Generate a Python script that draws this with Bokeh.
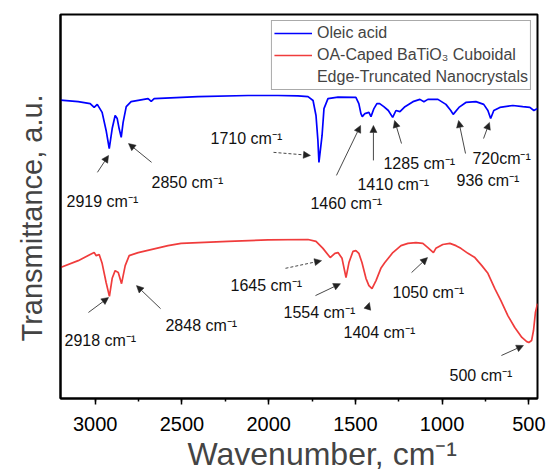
from bokeh.plotting import figure
from bokeh.models import (Range1d, FixedTicker, SingleIntervalTicker, Label, Arrow,
                          NormalHead, Legend, LegendItem, Title)
from bokeh.embed import file_html
from bokeh.resources import INLINE

# ---------------- data ----------------
wn_oa = [3200, 3098, 3029, 3006, 2988, 2960, 2937, 2919, 2902, 2885, 2873, 2862, 2850,
         2839, 2821, 2793, 2695, 2677, 2660, 2407, 2119, 1946, 1831, 1773, 1744, 1727,
         1716, 1710, 1692, 1681, 1658, 1600, 1497, 1480, 1468, 1460, 1445, 1422, 1410,
         1393, 1376, 1360, 1336, 1310, 1285, 1266, 1243, 1214, 1168, 1128, 1105, 1082,
         1024, 978, 950, 936, 903, 863, 805, 760, 736, 720, 702, 667, 592, 535, 494,
         471, 450]
t_oa = [77.7, 77.3, 76.8, 75.8, 76.6, 74.5, 69.8, 65.1, 70.3, 73.7, 72.9, 70.3, 68.0,
        71.9, 76.0, 77.3, 78.1, 77.4, 78.1, 78.6, 78.9, 78.9, 78.8, 78.6, 77.6, 73.7,
        67.2, 61.5, 68.5, 75.5, 78.1, 78.5, 78.4, 76.8, 74.2, 73.4, 74.2, 74.5, 73.4,
        75.5, 76.8, 76.8, 76.0, 75.0, 73.2, 75.0, 74.7, 76.0, 77.3, 77.9, 77.3, 77.9,
        77.9, 76.6, 75.0, 74.0, 75.8, 77.1, 77.3, 76.6, 75.0, 72.9, 75.0, 75.8, 76.3,
        76.0, 75.8, 75.0, 75.5]

wn_bt = [3200, 3098, 3029, 3006, 2994, 2977, 2960, 2937, 2918, 2902, 2885, 2867, 2848,
         2827, 2804, 2752, 2580, 2505, 2234, 2004, 1773, 1727, 1687, 1645, 1618, 1600,
         1577, 1554, 1537, 1514, 1497, 1480, 1462, 1439, 1422, 1404, 1381, 1353, 1330,
         1284, 1237, 1197, 1151, 1111, 1082, 1050, 1036, 996, 955, 920, 892, 851, 811,
         771, 736, 696, 661, 621, 581, 540, 512, 500, 484, 473, 462, 450]
t_bt = [34.1, 35.9, 37.5, 38.0, 37.2, 37.5, 35.2, 30.2, 26.6, 31.3, 33.3, 32.8, 29.9,
        34.6, 37.2, 38.0, 39.8, 40.4, 40.9, 41.3, 41.4, 40.9, 39.1, 36.7, 37.8, 38.0,
        36.5, 31.5, 35.4, 38.3, 38.5, 37.8, 35.4, 31.3, 29.4, 28.6, 30.7, 33.9, 35.4,
        38.0, 39.8, 40.4, 40.6, 40.4, 39.3, 38.0, 39.1, 40.1, 40.4, 39.8, 39.1, 37.8,
        36.7, 34.6, 32.6, 28.6, 25.5, 21.6, 18.5, 15.9, 14.8, 14.6, 15.1, 17.7, 22.4,
        24.7]

x_ticks = [3000, 2500, 2000, 1500, 1000, 500]
series_names = ["Oleic acid", "OA-Caped BaTiO\u2083 Cuboidal", "Edge-Truncated Nanocrystals"]

# peak annotations: text, label x, label baseline y, arrow tail (x, y), arrow head (x, y), dashed
blue_ann = [
    ("2919 cm\u207b\u00b9", 3165, 51.4, 2987, 58.9, 2923, 63.3, False),
    ("2850 cm\u207b\u00b9", 2675, 56.2, 2675, 61.5, 2808, 66.4, False),
    ("1710 cm\u207b\u00b9", 2335, 67.7, 1972, 64.1, 1759, 63.3, True),
    ("1460 cm\u207b\u00b9", 1759, 50.8, 1609, 58.1, 1470, 71.1, False),
    ("1410 cm\u207b\u00b9", 1488, 55.7, 1396, 62.0, 1396, 71.1, False),
    ("1285 cm\u207b\u00b9", 1338, 61.2, 1234, 66.4, 1274, 72.4, False),
    ("936 cm\u207b\u00b9", 917, 56.8, 865, 63.8, 905, 72.4, False),
    ("720cm\u207b\u00b9", 825, 62.5, 761, 67.7, 727, 71.9, False),
]
red_ann = [
    ("2918 cm\u207b\u00b9", 3177, 15.1, 3039, 22.4, 2923, 26.3, False),
    ("2848 cm\u207b\u00b9", 2595, 19.0, 2623, 23.4, 2762, 29.4, False),
    ("1645 cm\u207b\u00b9", 2220, 29.4, 1903, 33.9, 1695, 35.9, True),
    ("1554 cm\u207b\u00b9", 1914, 22.4, 1730, 26.8, 1586, 29.9, False),
    ("1404 cm\u207b\u00b9", 1568, 17.2, 1430, 23.4, 1419, 25.0, False),
    ("1050 cm\u207b\u00b9", 1286, 27.6, 1176, 32.8, 1084, 36.7, False),
    ("500 cm\u207b\u00b9", 957, 6.0, 658, 11.2, 531, 13.8, False),
]

FONT = "Liberation Sans"

p = figure(frame_width=477, frame_height=384,
           x_range=Range1d(3200, 450), y_range=Range1d(0, 100),
           output_backend="svg", toolbar_location=None,
           min_border_left=10, min_border_right=10, min_border_top=14, min_border_bottom=0,
           background_fill_color="white", border_fill_color="white")

p.grid.visible = False
p.outline_line_color = "black"
p.outline_line_width = 2

# x axis
xa = p.xaxis[0]
xa.ticker = SingleIntervalTicker(interval=500, num_minor_ticks=2)
xa.major_label_text_font = FONT
xa.major_label_text_font_size = "20px"
xa.major_label_text_color = "black"
xa.major_tick_in = 0
xa.major_tick_out = 6
xa.minor_tick_in = 0
xa.minor_tick_out = 3
xa.major_tick_line_width = 1.5
xa.minor_tick_line_width = 1.5
xa.axis_line_width = 2
xa.major_label_standoff = 12

# y axis: no ticks, no labels
ya = p.yaxis[0]
ya.ticker = FixedTicker(ticks=[])
ya.axis_line_width = 2
ya.major_tick_line_color = None
ya.minor_tick_line_color = None
ya.major_label_text_font_size = "0px"

p.add_layout(Title(text="Wavenumber, cm\u207b\u00b9", align="left", offset=127,
                   text_font=FONT, text_font_size="32px", text_font_style="normal",
                   standoff=0), "below")
p.add_layout(Title(text="Transmittance, a.u.", align="left", offset=57,
                   text_font=FONT, text_font_size="29px", text_font_style="normal",
                   standoff=26), "left")

r_oa = p.line(wn_oa, t_oa, line_color="#0000ff", line_width=1.7)
r_bt = p.line(wn_bt, t_bt, line_color="#f03c3c", line_width=1.7)
r_blank = p.line(x=[], y=[], line_alpha=0)

for anns in (blue_ann, red_ann):
    for txt, lx, ly, tx, ty, hx, hy, dashed in anns:
        p.add_layout(Label(x=lx, y=ly, text=txt, text_font=FONT, text_font_size="16px",
                           text_color="#111111", text_baseline="alphabetic"))
        p.add_layout(Arrow(x_start=tx, y_start=ty, x_end=hx, y_end=hy,
                           line_color="#333333", line_width=0.9,
                           line_dash="3 2" if dashed else "solid",
                           end=NormalHead(size=7, fill_color="#222222",
                                          line_color="#222222", line_width=0.5)))

legend = Legend(items=[LegendItem(label=series_names[0], renderers=[r_oa]),
                       LegendItem(label=series_names[1], renderers=[r_bt]),
                       LegendItem(label=series_names[2], renderers=[r_blank])],
                location="top_right", margin=6, padding=2, spacing=2,
                glyph_width=38, glyph_height=20, label_height=20, label_standoff=5,
                label_text_font=FONT, label_text_font_size="16px",
                border_line_color="#555555", border_line_width=1,
                background_fill_alpha=1.0)
p.add_layout(legend)

open("out.html", "w").write(file_html(p, INLINE))
